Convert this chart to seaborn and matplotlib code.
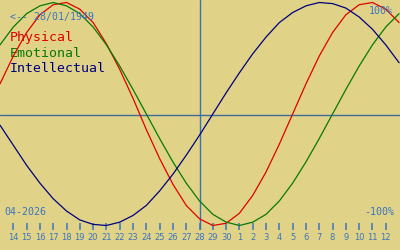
import matplotlib
matplotlib.use("Agg")
import matplotlib.pyplot as plt
import seaborn as sns
import pandas as pd

# day offsets from 14 April 2026 (x = -1 is 13 April)
days = list(range(-1, 30))
physical = [0.27, 0.52, 0.73, 0.89, 0.98, 1.00, 0.94, 0.82, 0.63, 0.40, 0.14, -0.14,
            -0.40, -0.63, -0.82, -0.94, -1.00, -0.98, -0.89, -0.73, -0.52, -0.27, 0.00,
            0.27, 0.52, 0.73, 0.89, 0.98, 1.00, 0.94, 0.82]
emotional = [0.62, 0.78, 0.90, 0.97, 1.00, 0.97, 0.90, 0.78, 0.62, 0.43, 0.22, 0.00,
             -0.22, -0.43, -0.62, -0.78, -0.90, -0.97, -1.00, -0.97, -0.90, -0.78, -0.62,
             -0.43, -0.22, 0.00, 0.22, 0.43, 0.62, 0.78, 0.90]
intellectual = [-0.10, -0.28, -0.46, -0.62, -0.76, -0.87, -0.95, -0.99, -1.00, -0.97,
                -0.91, -0.82, -0.69, -0.54, -0.37, -0.19, 0.00, 0.19, 0.37, 0.54, 0.69,
                0.82, 0.91, 0.97, 1.00, 0.99, 0.95, 0.87, 0.76, 0.62, 0.46]
tick_days = list(range(0, 29))
tick_labels = ["14", "15", "16", "17", "18", "19", "20", "21", "22", "23", "24", "25",
               "26", "27", "28", "29", "30", "1", "2", "3", "4", "5", "6", "7", "8",
               "9", "10", "11", "12"]
today = 14
series_names = ["Physical", "Emotional", "Intellectual"]
series_colors = ["#e00000", "#087808", "#000080"]
birth_label = "<-- 28/01/1949"
month_label = "04-2026"

BG = "#e0d387"
TXT = "#3a74c0"

sns.set_style("white", {"axes.facecolor": BG, "figure.facecolor": BG})

df = pd.DataFrame({"day": days * 3,
                   "value": physical + emotional + intellectual,
                   "series": [series_names[0]] * len(days) + [series_names[1]] * len(days)
                   + [series_names[2]] * len(days)})

fig = plt.figure(figsize=(4, 2.5), dpi=100)
fig.patch.set_facecolor(BG)
ax = fig.add_axes([0, 0.08, 1, 0.92])
ax.set_facecolor(BG)

ax.axhline(-0.005, color="#3f6a9a", lw=1.0, zorder=1)
ax.axvline(today, color="#3a72b8", lw=1.0, zorder=1)

sns.lineplot(data=df, x="day", y="value", hue="series", palette=series_colors,
             hue_order=series_names, linewidth=0.9, legend=False, ax=ax, zorder=3)

ax.set_xlim(-1.0, 29.07)
ax.set_ylim(-1.0404, 1.0224)
for s in ax.spines.values():
    s.set_visible(False)
ax.set_xlabel("")
ax.set_ylabel("")
ax.set_yticks([])
ax.set_xticks(tick_days)
ax.set_xticklabels(tick_labels, fontsize=6, color=TXT, family="DejaVu Sans")
ax.tick_params(axis="x", bottom=True, direction="in", length=5, width=1.1, color=TXT,
               pad=2.3)

mono = "DejaVu Sans Mono"
ax.text(0.025, 0.927, birth_label, transform=ax.transAxes, color=TXT, fontsize=7.1,
        family=mono, va="center", ha="left")
ax.text(0.983, 0.95, "100%", transform=ax.transAxes, color=TXT, fontsize=7.2,
        family=mono, va="center", ha="right")
ax.text(0.01, 1 - 212 / 230, month_label, transform=ax.transAxes, color=TXT, fontsize=7.2,
        family=mono, va="center", ha="left")
ax.text(0.985, 1 - 212 / 230, "-100%", transform=ax.transAxes, color=TXT, fontsize=7.2,
        family=mono, va="center", ha="right")
for i, (name, col) in enumerate(zip(series_names, series_colors)):
    ax.text(0.025, 1 - (38 + 15.5 * i) / 230, name, transform=ax.transAxes, color=col,
            fontsize=9.5, family=mono, va="center", ha="left", zorder=2)

fig.savefig("out.png", dpi=100, facecolor=BG)
